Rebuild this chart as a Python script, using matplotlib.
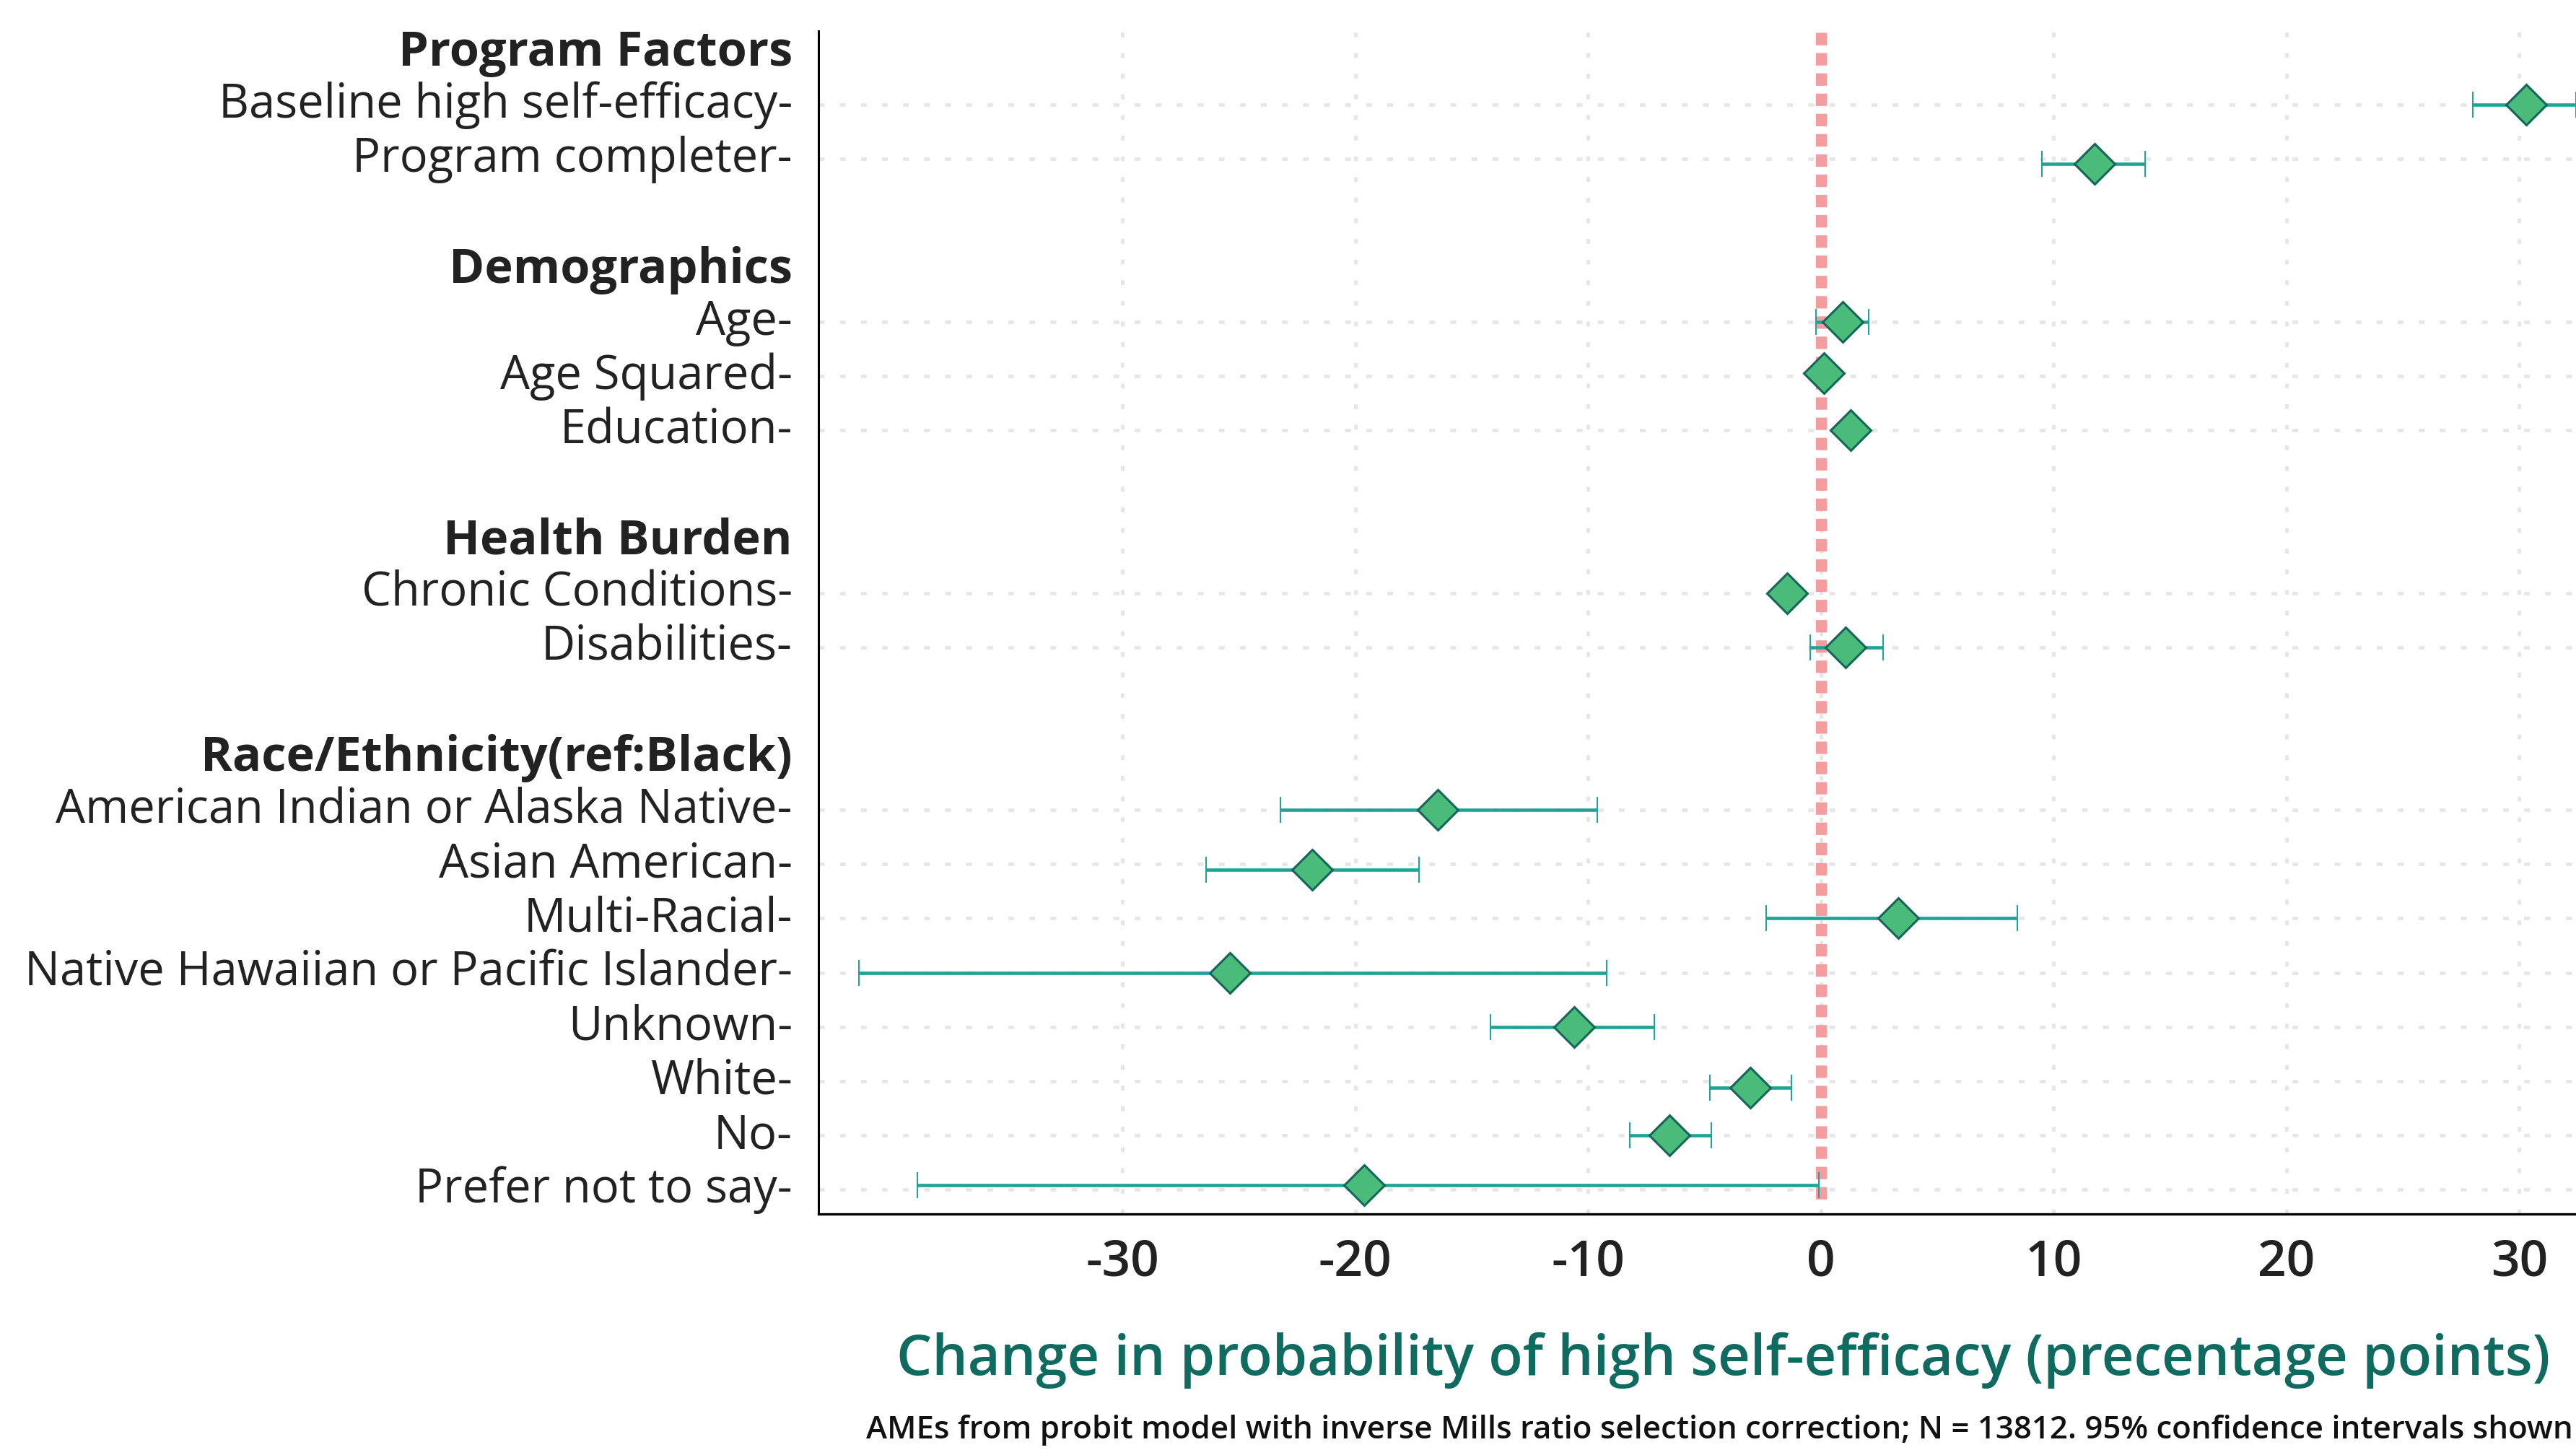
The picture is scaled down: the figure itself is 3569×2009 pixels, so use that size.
import numpy as np
import matplotlib
matplotlib.use('Agg')
import matplotlib.pyplot as plt
from matplotlib.transforms import ScaledTranslation

plt.rcParams['font.family'] = ['Open Sans', 'DejaVu Sans']
plt.rcParams['lines.scale_dashes'] = False

# data
groups = ["Program Factors", "Demographics", "Health Burden", "Race/Ethnicity(ref:Black)"]
labels = ["Baseline high self-efficacy", "Program completer",
          "Age", "Age Squared", "Education",
          "Chronic Conditions", "Disabilities",
          "American Indian or Alaska Native", "Asian American", "Multi-Racial",
          "Native Hawaiian or Pacific Islander", "Unknown", "White", "No",
          "Prefer not to say"]
group_of = [0, 0, 1, 1, 1, 2, 2, 3, 3, 3, 3, 3, 3, 3, 3]
ame = [30.3, 11.75, 0.94, 0.14, 1.28, -1.46, 1.07,
       -16.45, -21.85, 3.32, -25.37, -10.6, -3.04, -6.5, -19.6]
ci_low = [28.0, 9.49, -0.2, -0.1, 1.0, -1.75, -0.47,
          -23.2, -26.4, -2.34, -41.3, -14.2, -4.76, -8.2, -38.8]
ci_high = [32.45, 13.93, 2.05, 0.4, 1.55, -1.2, 2.68,
           -9.6, -17.25, 8.43, -9.2, -7.15, -1.26, -4.7, -0.08]
y_nudge = [0, 0.09, 0, -0.05, 0, 0, 0,
           0, 0.1, 0, 0, 0, 0.12, 0, -0.08]
xticks = [-30, -20, -10, 0, 10, 20, 30]

# row layout: header row, group rows, blank row
slots, header_slots = [], []
pos = 0
for g in range(len(groups)):
    header_slots.append(pos)
    pos += 1
    for gi in group_of:
        if gi == g:
            slots.append(pos)
            pos += 1
    pos += 1

ame = np.array(ame)
y = np.array(slots) + np.array(y_nudge)
xerr = [ame - np.array(ci_low), np.array(ci_high) - ame]

W, H, DPI = 3569, 2009, 200
fig = plt.figure(figsize=(W / DPI, H / DPI), dpi=DPI)
ax = fig.add_axes([1134 / W, 1 - 1682 / H, (3642 - 1134) / W, (1682 - 27) / H])
ax.set_xlim(-43.05, 34.7)
ax.set_ylim(21.45, -0.572)

# grid
for xt in xticks:
    ax.axvline(xt, color='#e6e6e6', lw=1.8, dashes=(2.4, 7.9), zorder=0.5)
for s in slots:
    ax.axhline(s, color='#e6e6e6', lw=1.7, dashes=(2.9, 7.6), zorder=1.5)

# reference line
ax.vlines(0, -0.33, 21.22, color='#f49da1', lw=5.5, linestyles=[(0, (6.2, 3.9))], zorder=1)

ax.errorbar(ame, y, xerr=xerr, fmt='none', ecolor='#1fa396', elinewidth=1.65,
            capsize=6.4, capthick=0.75, zorder=2)
ax.plot(ame, y, 'D', ms=14.5, mfc='#4bbb7a', mec='#14665a', mew=1.1, zorder=3,
        linestyle='none')

for side in ['top', 'right']:
    ax.spines[side].set_visible(False)
ax.spines['left'].set_bounds(21.45, -0.36)
ax.spines['left'].set_linewidth(1.1)
ax.spines['bottom'].set_linewidth(1.2)

ax.set_yticks(slots)
ax.set_yticklabels([l + '-' for l in labels], fontsize=23.4, color='#222222')
ax.set_xticks(xticks)
ax.set_xticklabels([str(t) for t in xticks], fontsize=25, fontweight='semibold',
                   color='#222222')
ax.tick_params(axis='y', length=0, pad=13)
ax.tick_params(axis='x', length=0, pad=12)
lift = ScaledTranslation(0, 2.5 / 72, fig.dpi_scale_trans)
for lab in ax.get_yticklabels():
    lab.set_transform(lab.get_transform() + lift)

for g, s in zip(groups, header_slots):
    ax.annotate(g, xy=(0, s), xycoords=('axes fraction', 'data'),
                xytext=(-13, 1.5), textcoords='offset points', ha='right',
                va='center_baseline', fontsize=24, fontweight='bold',
                color='#222222', annotation_clip=False)

fig.text(2388 / W, 1 - 1885 / H,
         'Change in probability of high self-efficacy (precentage points)',
         ha='center', va='center', fontsize=28, fontweight='semibold', color='#0f6b5f')
fig.text(3565 / W, 1 - 1981 / H,
         'AMEs from probit model with inverse Mills ratio selection correction; '
         'N = 13812. 95% confidence intervals shown',
         ha='right', va='center', fontsize=15.8, fontweight='semibold', color='#111111')

fig.savefig('out.png', dpi=DPI)
